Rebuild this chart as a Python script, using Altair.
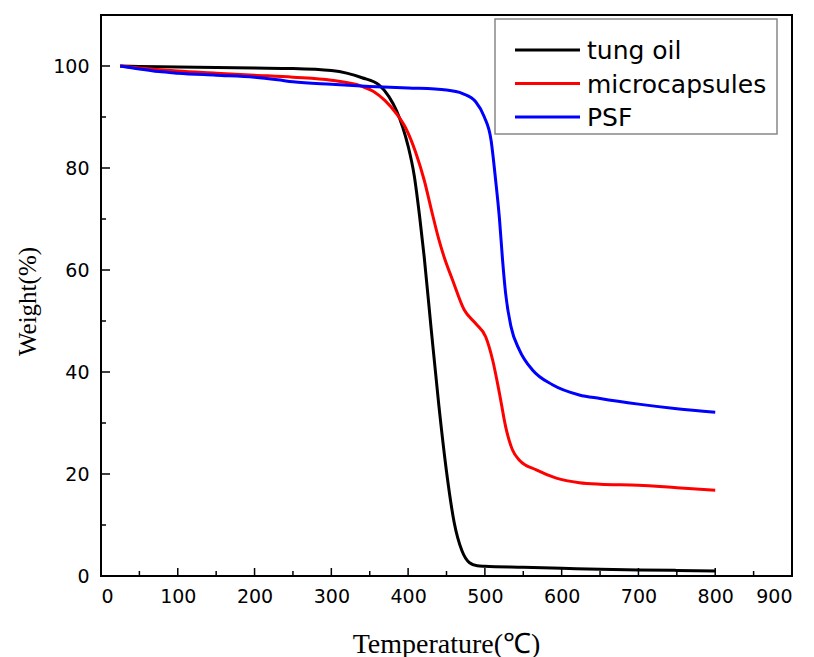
import altair as alt
import pandas as pd

# ---- data ----
tung_T = [25, 50, 100, 150, 200, 250, 300, 320, 340, 362, 375, 385, 393, 400, 408, 415, 421, 430, 440, 450, 460, 470, 480, 490, 500, 550, 600, 650, 700, 750, 800]
tung_W = [100, 99.9, 99.8, 99.7, 99.6, 99.5, 99.1, 98.6, 97.7, 96.3, 94.0, 91.2, 88.0, 84.3, 78.5, 70.5, 62.5, 48.5, 33.5, 20.5, 10.5, 5.0, 2.6, 2.0, 1.9, 1.7, 1.5, 1.3, 1.2, 1.1, 1.0]

micro_T = [25, 50, 100, 150, 200, 250, 300, 340, 355, 370, 385, 397, 410, 421, 430, 440, 447, 458, 473, 488, 501, 510, 519, 527, 536, 545, 567, 593, 623, 650, 700, 750, 800]
micro_W = [100, 99.6, 99.0, 98.6, 98.2, 97.8, 97.2, 96.0, 95.0, 93.2, 90.6, 87.8, 83.0, 77.6, 72.0, 66.0, 62.5, 58.0, 52.2, 49.5, 46.9, 42.4, 35.8, 29.3, 24.7, 22.7, 20.8, 19.2, 18.3, 18.0, 17.8, 17.3, 16.8]

psf_T = [25, 50, 75, 100, 150, 200, 230, 250, 300, 350, 400, 450, 471, 488, 499, 508, 514, 519, 523, 527, 534, 545, 562, 588, 623, 650, 700, 750, 800]
psf_W = [100, 99.4, 98.9, 98.6, 98.2, 97.8, 97.3, 96.9, 96.4, 96.0, 95.7, 95.3, 94.6, 93.0, 90.1, 85.5, 77.6, 70.0, 62.0, 55.4, 48.9, 44.3, 40.4, 37.5, 35.5, 34.8, 33.7, 32.8, 32.1]

series_names = ["tung oil", "microcapsules", "PSF"]
series_colors = ["#000000", "#ff0000", "#0000ff"]

x_major = [0, 100, 200, 300, 400, 500, 600, 700, 800, 900]
x_minor = [50, 150, 250, 350, 450, 550, 650, 750, 850]
y_major = [0, 20, 40, 60, 80, 100]
y_minor = [10, 30, 50, 70, 90]

rows = []
for name, T, W in zip(series_names, [tung_T, micro_T, psf_T], [tung_W, micro_W, psf_W]):
    for t, w in zip(T, W):
        rows.append({"T": t, "W": w, "series": name})
df = pd.DataFrame(rows)

W_PX, H_PX = 691, 561

xscale = alt.Scale(domain=[0, 900], nice=False, zero=False)
yscale = alt.Scale(domain=[0, 110], nice=False, zero=False)

lines = alt.Chart(df).mark_line(strokeWidth=3, interpolate="monotone", clip=True).encode(
    x=alt.X("T:Q", scale=xscale,
            axis=alt.Axis(title="Temperature(℃)", values=x_major, format="d",
                          domain=False, ticks=False, tickSize=0, grid=False,
                          labelFont="DejaVu Sans", labelFontSize=19, labelColor="black",
                          labelPadding=11,
                          titleFont="Liberation Serif", titleFontSize=28, titleFontWeight="normal",
                          titleColor="black", titleX=345, titleY=68, titleBaseline="middle",
                          titleAlign="center")),
    y=alt.Y("W:Q", scale=yscale,
            axis=alt.Axis(title="Weight(%)", values=y_major, format="d",
                          domain=False, ticks=False, tickSize=0, grid=False,
                          labelFont="DejaVu Sans", labelFontSize=19, labelColor="black",
                          labelPadding=12,
                          titleFont="Liberation Serif", titleFontSize=25, titleFontWeight="normal",
                          titleColor="black", titleAngle=-90, titleX=-74, titleY=286,
                          titleBaseline="middle", titleAlign="center")),
    color=alt.Color("series:N",
                    scale=alt.Scale(domain=series_names, range=series_colors),
                    legend=None),
)

xmaj = alt.Chart(pd.DataFrame({"v": x_major})).mark_rule(color="black", strokeWidth=1.5).encode(
    x=alt.X("v:Q", scale=xscale), y=alt.value(H_PX), y2=alt.value(H_PX - 8))
xmin = alt.Chart(pd.DataFrame({"v": x_minor})).mark_rule(color="black", strokeWidth=1.5).encode(
    x=alt.X("v:Q", scale=xscale), y=alt.value(H_PX), y2=alt.value(H_PX - 5))
ymaj = alt.Chart(pd.DataFrame({"v": y_major})).mark_rule(color="black", strokeWidth=1.5).encode(
    y=alt.Y("v:Q", scale=yscale), x=alt.value(0), x2=alt.value(9))
ymin = alt.Chart(pd.DataFrame({"v": y_minor})).mark_rule(color="black", strokeWidth=1.5).encode(
    y=alt.Y("v:Q", scale=yscale), x=alt.value(0), x2=alt.value(5))

# ---- legend (drawn as marks to match the boxed legend of the reference) ----
legend_box = alt.Chart(pd.DataFrame({"k": [0]})).mark_rect(
    fill="white", stroke="#888888", strokeWidth=1.5).encode(
    x=alt.value(394), x2=alt.value(676), y=alt.value(4), y2=alt.value(119))

legend_layers = [legend_box]
row_y = [35, 68.5, 102]
for name, col, ry in zip(series_names, series_colors, row_y):
    d = pd.DataFrame({"series": [name]})
    legend_layers.append(
        alt.Chart(d).mark_rule(color=col, strokeWidth=3).encode(
            x=alt.value(414), x2=alt.value(479), y=alt.value(ry)))
    legend_layers.append(
        alt.Chart(d).mark_text(align="left", baseline="middle", font="DejaVu Sans",
                               fontSize=25, color="black").encode(
            text="series:N", x=alt.value(486), y=alt.value(ry + 1)))

chart = alt.layer(xmaj, xmin, ymaj, ymin, lines, *legend_layers).properties(
    width=W_PX, height=H_PX,
    padding={"left": 93, "top": 7, "right": 14, "bottom": 82},
    autosize=alt.AutoSizeParams(type="none"),
    background="white",
).configure_view(stroke="black", strokeWidth=2)

chart.save("out.html", embed_options={"renderer": "svg", "actions": False})
